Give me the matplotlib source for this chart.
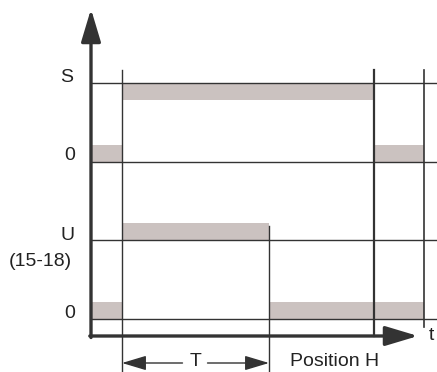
import matplotlib
matplotlib.use("Agg")
import matplotlib.pyplot as plt
from matplotlib.patches import Rectangle

# time positions of the events (figure pixels)
t_start = 91
t_events = [122, 269, 374, 424]
t_end = 436

# bar intervals for each signal state
s_high = [(122, 374)]
s_low = [(91, 122), (374, 424)]
u_high = [(122, 269)]
u_low = [(91, 122), (269, 424)]

levels_y = {"S": 83, "S0": 162, "U": 240, "U0": 319}
bar_h = 17
axis_y = 336

fill = "#cbc2c0"
dark = "#333333"
plt.rcParams["font.family"] = ["Liberation Sans", "DejaVu Sans"]

fig = plt.figure(figsize=(4.37, 3.72), dpi=100)
ax = fig.add_axes([0, 0, 1, 1])
ax.set_xlim(0, 437)
ax.set_ylim(372, 0)
ax.axis("off")

# bars: high levels hang below the top line, low levels sit on the zero line
for a, b in s_high:
    ax.add_patch(Rectangle((a, levels_y["S"]), b - a, bar_h, color=fill, lw=0))
for a, b in s_low:
    ax.add_patch(Rectangle((a, levels_y["S0"] - bar_h), b - a, bar_h, color=fill, lw=0))
for a, b in u_high:
    ax.add_patch(Rectangle((a, levels_y["U"] - bar_h), b - a, bar_h, color=fill, lw=0))
for a, b in u_low:
    ax.add_patch(Rectangle((a, levels_y["U0"] - bar_h), b - a, bar_h, color=fill, lw=0))

# level lines
for y in levels_y.values():
    ax.plot([t_start, t_end], [y, y], color=dark, lw=1.0)

# vertical event lines
ax.plot([t_events[0]] * 2, [70, 372], color=dark, lw=1.0)
ax.plot([t_events[1]] * 2, [226, 372], color=dark, lw=1.0)
ax.plot([t_events[2]] * 2, [70, axis_y], color=dark, lw=1.6)
ax.plot([t_events[3]] * 2, [70, 327], color=dark, lw=1.2)

# axes with arrows
big_head = "-|>,head_length=2.0,head_width=0.6"
ax.annotate("", xy=(t_start, 9), xytext=(t_start, axis_y + 1.5),
            arrowprops=dict(arrowstyle=big_head, color=dark, lw=2.4,
                            shrinkA=0, shrinkB=0))
ax.annotate("", xy=(418, axis_y), xytext=(t_start - 1.2, axis_y),
            arrowprops=dict(arrowstyle=big_head, color=dark, lw=2.4,
                            shrinkA=0, shrinkB=0))

# T dimension arrows
t_y = 363
t_mid = (t_events[0] + t_events[1]) / 2
for end, start in [(t_events[0], t_mid - 13), (t_events[1], t_mid + 12)]:
    ax.annotate("", xy=(end, t_y), xytext=(start, t_y),
                arrowprops=dict(arrowstyle="-|>,head_length=1.5,head_width=0.45",
                                color=dark, lw=1.0, shrinkA=0, shrinkB=0))

txt = dict(color="#222222", fontsize=14)
ax.text(t_mid, 361, "T", ha="center", va="center", **txt)
ax.text(67, 77, "S", ha="center", va="center", **txt)
ax.text(70, 156, "0", ha="center", va="center", **txt)
ax.text(68, 235, "U", ha="center", va="center", **txt)
ax.text(40, 262, "(15-18)", ha="center", va="center", **txt)
ax.text(70, 313, "0", ha="center", va="center", **txt)
ax.text(431, 335, "t", ha="center", va="center", **txt)
ax.text(335, 362, "Position H", ha="center", va="center", **txt)

fig.savefig("out.png", dpi=100)
